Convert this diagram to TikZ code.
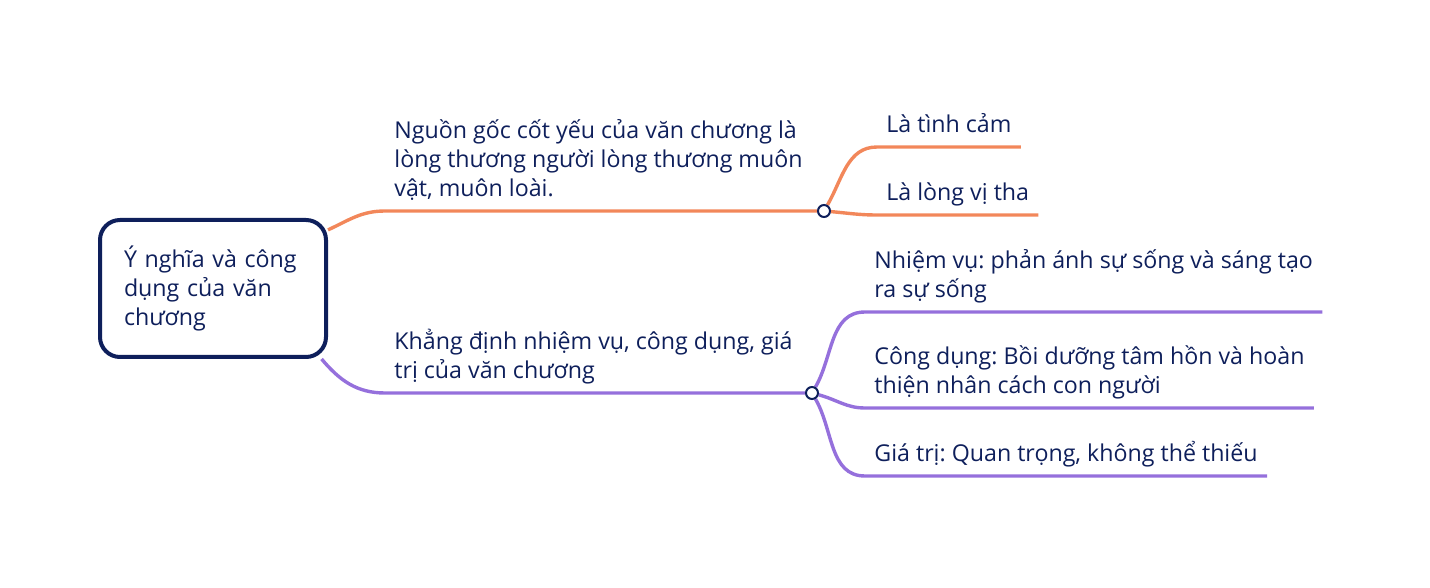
\documentclass[tikz,border=0pt]{standalone}
\usepackage{fontspec}
\setmainfont{Open Sans}
\frenchspacing
\usetikzlibrary{positioning,backgrounds}
\definecolor{navy}{HTML}{0E1F5B}
\definecolor{mmorange}{HTML}{F2875A}
\definecolor{mmpurple}{HTML}{9570DC}
\tikzset{
  mm_text/.style = {align=left, anchor=south west, inner xsep=4.5pt,
    inner ysep=0pt, text depth=7pt, text=navy,
    font=\fontsize{11.6}{14.5}\selectfont},
  mm_root/.style = {draw=navy, line width=2pt, rounded corners=10pt,
    fill=white, align=left, text=navy, text width=89pt, inner xsep=12pt,
    minimum height=68.5pt, font=\fontsize{11.6}{14.5}\selectfont},
  mm_dot/.style = {circle, draw=navy, fill=white, line width=1pt,
    inner sep=0pt, minimum size=6pt},
  orange_e/.style = {draw=mmorange, line width=1.7pt},
  purple_e/.style = {draw=mmpurple, line width=1.7pt}}
\begin{document}
\begin{tikzpicture}[x=0.5pt,y=-0.5pt]
\useasboundingbox (0,0) rectangle (1430,588);

\node [mm_root] (root) at (213,288.5) {Ý nghĩa và công\\ dụng của văn\\ chương};

\node [mm_text] (src) at (385,211) {Nguồn gốc cốt yếu của văn chương là\\ lòng thương người lòng thương muôn\\ vật, muôn loài.};
\node [mm_dot] (dot_a) at (824,211) {};
\node [mm_text] (feel) at (877,147) {Là tình cảm};
\node [mm_text] (alt) at (877,215) {Là lòng vị tha};

\node [mm_text] (role) at (385,393) {Khẳng định nhiệm vụ, công dụng, giá\\ trị của văn chương};
\node [mm_dot] (dot_b) at (812,393) {};
\node [mm_text] (task) at (865,312) {Nhiệm vụ: phản ánh sự sống và sáng tạo\\ ra sự sống};
\node [mm_text] (use) at (865,408) {Công dụng: Bồi dưỡng tâm hồn và hoàn\\ thiện nhân cách con người};
\node [mm_text] (worth) at (865,476) {Giá trị: Quan trọng, không thể thiếu};

\begin{scope}[on background layer]
\draw [orange_e] (root.27) to[out=25,in=180] (src.south west) -- (dot_a);
\draw [orange_e] (dot_a) to[out=60,in=180] (feel.south west) -- (feel.south east);
\draw [orange_e] (dot_a) to[out=-5,in=180] (alt.south west) -- (alt.south east);

\draw [purple_e] (root.-33) to[out=-50,in=180] (role.south west) -- (dot_b);
\draw [purple_e] (dot_b) to[out=60,in=180] (task.south west) -- (task.south east);
\draw [purple_e] (dot_b) to[out=-15,in=180] (use.south west) -- (use.south east);
\draw [purple_e] (dot_b) to[out=-60,in=180] (worth.south west) -- (worth.south east);
\end{scope}
\end{tikzpicture}
\end{document}
